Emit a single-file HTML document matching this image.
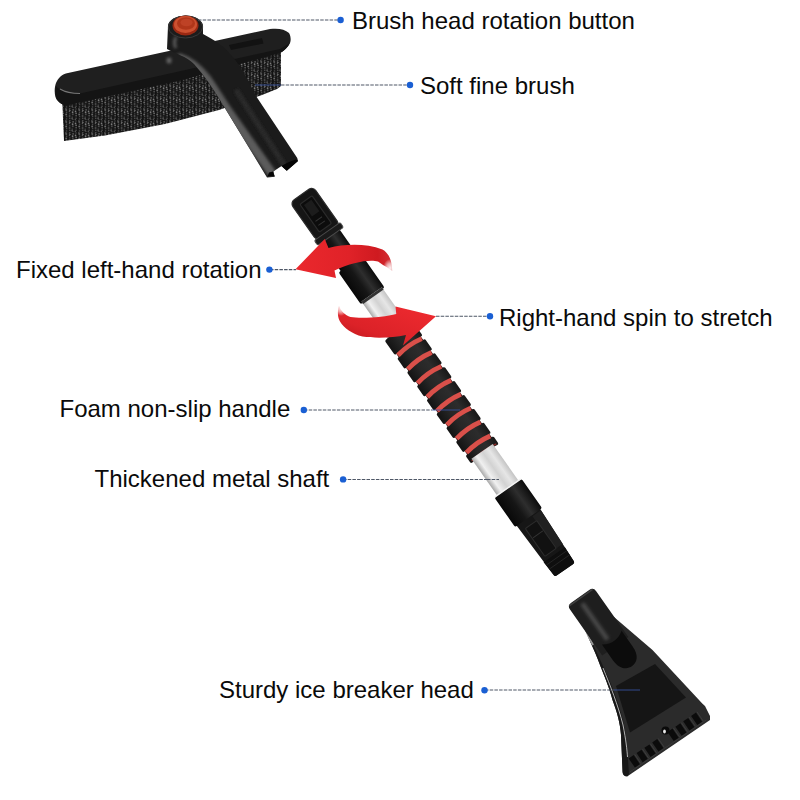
<!DOCTYPE html>
<html><head><meta charset="utf-8"><style>
html,body{margin:0;padding:0;background:#fff;width:800px;height:800px;overflow:hidden}
svg{display:block}
text{font-family:"Liberation Sans",sans-serif;font-size:24px;fill:#0a0a0a}
</style></head><body>
<svg width="800" height="800" viewBox="0 0 800 800">
<defs>
<pattern id="bristle" width="13" height="12" patternUnits="userSpaceOnUse">
<rect width="13" height="12" fill="#171717"/>
<circle cx="0.9" cy="0.0" r="0.92" fill="#4a4a4a"/>
<circle cx="4.4" cy="1.2" r="0.60" fill="#505050"/>
<circle cx="7.9" cy="11.8" r="0.67" fill="#6a6a6a"/>
<circle cx="11.0" cy="1.1" r="0.77" fill="#505050"/>
<circle cx="1.3" cy="1.9" r="0.90" fill="#6a6a6a"/>
<circle cx="4.4" cy="3.5" r="0.66" fill="#5a5a5a"/>
<circle cx="8.1" cy="1.8" r="0.89" fill="#5a5a5a"/>
<circle cx="10.6" cy="3.4" r="0.85" fill="#7a7a7a"/>
<circle cx="1.6" cy="4.3" r="0.76" fill="#505050"/>
<circle cx="4.8" cy="5.8" r="0.61" fill="#5a5a5a"/>
<circle cx="7.6" cy="4.2" r="0.87" fill="#7a7a7a"/>
<circle cx="11.2" cy="5.4" r="0.80" fill="#7a7a7a"/>
<circle cx="1.2" cy="6.5" r="0.92" fill="#6a6a6a"/>
<circle cx="4.6" cy="8.0" r="0.95" fill="#4a4a4a"/>
<circle cx="7.8" cy="6.3" r="0.94" fill="#4a4a4a"/>
<circle cx="11.2" cy="7.8" r="0.82" fill="#6a6a6a"/>
<circle cx="1.7" cy="8.6" r="0.62" fill="#5a5a5a"/>
<circle cx="4.8" cy="10.3" r="0.72" fill="#5a5a5a"/>
<circle cx="7.2" cy="9.1" r="0.70" fill="#5a5a5a"/>
<circle cx="11.1" cy="10.2" r="0.81" fill="#5a5a5a"/>
<circle cx="1.5" cy="10.9" r="0.72" fill="#505050"/>
<circle cx="4.8" cy="0.5" r="0.68" fill="#505050"/>
<circle cx="7.1" cy="10.6" r="0.81" fill="#5a5a5a"/>
<circle cx="10.3" cy="11.9" r="0.70" fill="#7a7a7a"/>
<circle cx="1.0" cy="1.4" r="0.71" fill="#4a4a4a"/>
<circle cx="4.9" cy="2.6" r="0.73" fill="#7a7a7a"/>
<rect x="11.8" y="0" width="1.2" height="12" fill="#111"/>
</pattern>
<linearGradient id="silver" x1="0" y1="0" x2="0" y2="1">
<stop offset="0" stop-color="#c4c4c4"/><stop offset="0.25" stop-color="#e6e6e6"/><stop offset="0.5" stop-color="#d2d2d2"/><stop offset="0.78" stop-color="#f0f0f0"/><stop offset="1" stop-color="#a8a8a8"/>
</linearGradient>
<linearGradient id="blackg" x1="0" y1="0" x2="0" y2="1">
<stop offset="0" stop-color="#0c0c0c"/><stop offset="0.35" stop-color="#2e2e2e"/><stop offset="0.6" stop-color="#161616"/><stop offset="1" stop-color="#080808"/>
</linearGradient>
<linearGradient id="redg1" x1="0" y1="0" x2="1" y2="0">
<stop offset="0" stop-color="#ea282d"/><stop offset="0.55" stop-color="#e02228"/><stop offset="0.85" stop-color="#cf1a20"/><stop offset="1" stop-color="#d23036"/>
</linearGradient>
<linearGradient id="redg2" x1="0" y1="1" x2="1" y2="0">
<stop offset="0" stop-color="#b51519"/><stop offset="0.35" stop-color="#dc2228"/><stop offset="1" stop-color="#f02b30"/>
</linearGradient>
<filter id="blur2" x="-20%" y="-20%" width="140%" height="140%"><feGaussianBlur stdDeviation="2"/></filter>
<filter id="blurU" filterUnits="userSpaceOnUse" x="-2000" y="-2000" width="4000" height="4000"><feGaussianBlur stdDeviation="1.6"/></filter>
<linearGradient id="foamg" x1="0" y1="0" x2="0" y2="1">
<stop offset="0" stop-color="#1a1a1a"/><stop offset="0.3" stop-color="#2c2c2c"/><stop offset="0.65" stop-color="#262626"/><stop offset="1" stop-color="#151515"/>
</linearGradient>
<radialGradient id="fade">
<stop offset="0" stop-color="#fff" stop-opacity="0.95"/><stop offset="0.5" stop-color="#fff" stop-opacity="0.6"/><stop offset="1" stop-color="#fff" stop-opacity="0"/>
</radialGradient>
</defs>



<g id="brush">
<path d="M62,96 L276,46 L281,52 L281,86 L277,89 L262,95 L219,110 L165,124 L105,135.5 L64,141 Z" fill="url(#bristle)"/>
<path d="M58,101 C54,98 54,88 56,83 C58,78 62,74 68,73 L270,29 C278,28 285,29 289,33 C291,36 291,41 290,43 C288,47 284,51 280,53 L180,80.5 L100,98 L66,105.5 C62,104.5 60,103 58,101 Z" fill="#1f1f1f"/>
<path d="M56,86 C59,91 70,93.5 80,93.5 L280,49 L290,43 C288,47 284,51 280,53 L180,80.5 L100,98 L66,105.5 C62,104.5 60,103 58,101 C55,98 55,90 56,86 Z" fill="#141414"/>
<path d="M60,89 C65,92 72,93.5 80,93.5" stroke="#777" stroke-width="1.2" fill="none"/>
<path d="M229,45 L262,38 L263.5,43.5 L231,50 Z" fill="#121212"/>
<clipPath id="armclip"><path d="M167,49 C176,54 186,56 194,64 C204,75 212,87 220,100 L267,177.5 L274.75,176.75 L273.25,171.5 L281.5,166 L286.75,170.75 L298,161 L297.25,158 L256,96 C248,80 240,64 230,54 C224,46 214,40 203,34 L203,27 A17.5,11 0 0 0 168,26 Z"/></clipPath>
<path d="M167,49 C176,54 186,56 194,64 C204,75 212,87 220,100 L267,177.5 L274.75,176.75 L273.25,171.5 L281.5,166 L286.75,170.75 L298,161 L297.25,158 L256,96 C248,80 240,64 230,54 C224,46 214,40 203,34 L203,27 A17.5,11 0 0 0 168,26 Z" fill="#1b1b1b"/>
<g clip-path="url(#armclip)">
<path d="M180,58 C192,62 200,70 207,79 C214,89 220,99 226,108 L271,172" stroke="#5c5c5c" stroke-width="9" fill="none" stroke-linecap="round" filter="url(#blurU)"/>
<path d="M236,90 L286,168" stroke="#2c2c2c" stroke-width="5" fill="none" filter="url(#blurU)"/>
</g>
<path d="M267.5,176.5 L274.5,176.3 L273,171.5 L269,172.5 Z" fill="#050505"/>
<path d="M281.5,166 L286.75,170.75 L298,161 L296,159.5 C291,161 286,163 281.5,166 Z" fill="#050505"/>
<ellipse cx="169" cy="60.5" rx="2.5" ry="3" fill="#666" filter="url(#blurU)"/>
<path d="M176,37 C174,41 174,45 176,48" stroke="#5a5a5a" stroke-width="3" fill="none" filter="url(#blurU)"/>
<ellipse cx="185.5" cy="27" rx="17.2" ry="11" fill="#1c1c1c" stroke="#3a3a3a" stroke-width="1"/>
<ellipse cx="185.5" cy="25.5" rx="13" ry="10" fill="#9a2812"/>
<ellipse cx="185.5" cy="24.5" rx="11.5" ry="8.5" fill="#cc5030"/>
<ellipse cx="186" cy="23.5" rx="9" ry="6.2" fill="#b0361a"/>
<ellipse cx="186.5" cy="22.5" rx="6" ry="3.8" fill="#be4226"/>
</g>

<g id="pole" transform="translate(301.5,194.5) rotate(54.9)">
<rect x="50" y="-11" width="40" height="23" fill="url(#blackg)"/>
<rect x="0" y="-14" width="47" height="28" rx="5" fill="#151515" stroke="#2c2c2c" stroke-width="1.2"/>
<rect x="7" y="-8" width="34" height="15" rx="1.5" fill="#0c0c0c" stroke="#2a2a2a" stroke-width="1.2"/>
<rect x="10" y="-5" width="14" height="9" fill="#1c1c1c"/>
<line x1="30" y1="-4" x2="30" y2="4" stroke="#333" stroke-width="1"/>
<line x1="35" y1="-4" x2="35" y2="4" stroke="#333" stroke-width="1"/>
<rect x="45" y="-15.5" width="6" height="31.5" rx="2" fill="#1a1a1a" stroke="#4a4a4a" stroke-width="1"/>
<rect x="85" y="-14.5" width="39" height="29" rx="2" fill="url(#blackg)"/>
<rect x="122" y="-12.5" width="56" height="25" fill="url(#silver)"/>
<rect x="122" y="-12.5" width="3" height="25" fill="#333"/>
<rect x="170" y="-16.0" width="145" height="30" fill="#3a1010"/>
<path d="M169.0,-16.5 Q166.0,-1.0 169.0,14.5 L183.5,14.5 Q180.5,-1.0 183.5,-16.5 Z" fill="url(#foamg)" stroke="url(#foamg)" stroke-width="3" stroke-linejoin="round"/>
<path d="M190.5,-16.5 Q187.5,-1.0 190.5,14.5 L200.5,14.5 Q197.5,-1.0 200.5,-16.5 Z" fill="url(#foamg)" stroke="url(#foamg)" stroke-width="3" stroke-linejoin="round"/>
<path d="M207.5,-16.5 Q204.5,-1.0 207.5,14.5 L217.5,14.5 Q214.5,-1.0 217.5,-16.5 Z" fill="url(#foamg)" stroke="url(#foamg)" stroke-width="3" stroke-linejoin="round"/>
<path d="M224.5,-16.5 Q221.5,-1.0 224.5,14.5 L234.5,14.5 Q231.5,-1.0 234.5,-16.5 Z" fill="url(#foamg)" stroke="url(#foamg)" stroke-width="3" stroke-linejoin="round"/>
<path d="M241.5,-16.5 Q238.5,-1.0 241.5,14.5 L251.5,14.5 Q248.5,-1.0 251.5,-16.5 Z" fill="url(#foamg)" stroke="url(#foamg)" stroke-width="3" stroke-linejoin="round"/>
<path d="M258.5,-16.5 Q255.5,-1.0 258.5,14.5 L268.5,14.5 Q265.5,-1.0 268.5,-16.5 Z" fill="url(#foamg)" stroke="url(#foamg)" stroke-width="3" stroke-linejoin="round"/>
<path d="M275.5,-16.5 Q272.5,-1.0 275.5,14.5 L285.5,14.5 Q282.5,-1.0 285.5,-16.5 Z" fill="url(#foamg)" stroke="url(#foamg)" stroke-width="3" stroke-linejoin="round"/>
<path d="M292.5,-16.5 Q289.5,-1.0 292.5,14.5 L302.5,14.5 Q299.5,-1.0 302.5,-16.5 Z" fill="url(#foamg)" stroke="url(#foamg)" stroke-width="3" stroke-linejoin="round"/>
<path d="M309.5,-16.5 Q306.5,-1.0 309.5,14.5 L316.0,14.5 Q313.0,-1.0 316.0,-16.5 Z" fill="url(#foamg)" stroke="url(#foamg)" stroke-width="3" stroke-linejoin="round"/>
<path d="M187.0,-15.5 Q184.0,-1.0 187.0,13.5" stroke="#d9504a" stroke-width="4.8" fill="none"/>
<path d="M204.0,-15.5 Q201.0,-1.0 204.0,13.5" stroke="#d9504a" stroke-width="4.8" fill="none"/>
<path d="M221.0,-15.5 Q218.0,-1.0 221.0,13.5" stroke="#d9504a" stroke-width="4.8" fill="none"/>
<path d="M238.0,-15.5 Q235.0,-1.0 238.0,13.5" stroke="#d9504a" stroke-width="4.8" fill="none"/>
<path d="M255.0,-15.5 Q252.0,-1.0 255.0,13.5" stroke="#d9504a" stroke-width="4.8" fill="none"/>
<path d="M272.0,-15.5 Q269.0,-1.0 272.0,13.5" stroke="#d9504a" stroke-width="4.8" fill="none"/>
<path d="M289.0,-15.5 Q286.0,-1.0 289.0,13.5" stroke="#d9504a" stroke-width="4.8" fill="none"/>
<path d="M306.0,-15.5 Q303.0,-1.0 306.0,13.5" stroke="#d9504a" stroke-width="4.8" fill="none"/>
<path d="M316.0,-16.0 Q313.0,-1.0 316.0,14.0" stroke="#8a2a26" stroke-width="1.5" fill="none"/>
<rect x="314" y="-13" width="48" height="26" fill="url(#silver)"/>
<path d="M393,-14.5 L456,-12 Q458.5,-12 458.5,-9.5 L458.5,10 Q458.5,12.5 456,12.5 L393,14.5 Z" fill="#161616"/>
<path d="M396,-14.3 L436,-12.8 L436,-4 L396,-4 Z" fill="#202020"/>
<rect x="402" y="-5" width="34" height="14" rx="1" fill="#111" stroke="#2c2c2c" stroke-width="1"/>
<line x1="414" y1="-4" x2="414" y2="8" stroke="#333" stroke-width="1"/>
<path d="M440,-12.7 L456,-12 Q458.5,-12 458.5,-9.5 L458.5,10 Q458.5,12.5 456,12.5 L440,13.3 Z" fill="#0e0e0e"/>
<line x1="444" y1="-12.3" x2="444" y2="12.8" stroke="#282828" stroke-width="0.8"/>
<line x1="449" y1="-12.1" x2="449" y2="12.6" stroke="#282828" stroke-width="0.8"/>
<rect x="359" y="-16.5" width="36" height="33" rx="2" fill="url(#blackg)"/>
<rect x="358" y="-16" width="1.5" height="32" fill="#f4f4f4"/>
</g>

<path d="M295.5,269.3 L324.75,239 L328.5,248 C345,244 365,243 382.5,249.5 C390,254 392,262 392.25,271 C389,268 384,266 378,261.5 C370,259 352,262 334.5,270.5 L336,278 Z" fill="url(#redg1)"/>
<ellipse cx="390" cy="268" rx="7" ry="9" fill="url(#fade)"/>
<path d="M436,316.25 L395.5,306.5 L396.25,314 C385,317 362,319 350.5,317 C345,315 341,311 339,306 C337,312 338,318 340,321.5 C344,328 352,334 362.5,336.5 C375,338.5 392,338 406,335 L403,345.5 Z" fill="url(#redg2)"/>
<ellipse cx="341" cy="308" rx="7" ry="8" fill="url(#fade)"/>

<g id="scraper">
<path d="M581,620 C586,634 594,648 600,665 C606,680 610,690 612.5,700 C617,712 620,722 621,735 L622.5,770 C622.5,774 623.5,776.5 627.5,776.25 L710,720 L710,716 L705,706 L702.5,703.75 L652.5,650 L614,617 Z" fill="#2b2b2b"/>
<path d="M581,620 C586,634 594,648 600,665 C606,680 610,690 612.5,700 C617,712 620,722 621,735 L622.5,770 C622.5,774 623.5,776.5 627.5,776.25 L629,774 C628,760 627,745 625,730 C621,708 612,685 603,666 C596,650 588,635 584,624 Z" fill="#181818"/>
<path d="M603,668 C610,685 618,705 623,725 C626,740 627,750 627.5,757" stroke="#d8d8d8" stroke-width="1" fill="none" opacity="0.8"/>
<path d="M583,624 C586,632 590,640 593,645" stroke="#e8e8e8" stroke-width="2" fill="none" opacity="0.6"/>
<path d="M616,686 L655,664 L686,697.5 L630,732.5 Z" fill="#151515"/>
<path d="M634.9,767.6 L639.9,764.2 L633.7,755.1 L628.7,758.5 Z" fill="#0b0b0b"/>
<line x1="640.8" y1="763.5" x2="634.7" y2="754.4" stroke="#3c3c3c" stroke-width="1"/>
<path d="M642.7,762.2 L647.7,758.8 L641.5,749.8 L636.6,753.1 Z" fill="#0b0b0b"/>
<line x1="648.7" y1="758.2" x2="642.5" y2="749.1" stroke="#3c3c3c" stroke-width="1"/>
<path d="M650.6,756.9 L655.6,753.5 L649.4,744.4 L644.4,747.8 Z" fill="#0b0b0b"/>
<line x1="656.5" y1="752.8" x2="650.3" y2="743.7" stroke="#3c3c3c" stroke-width="1"/>
<path d="M658.4,751.5 L663.4,748.1 L657.2,739.1 L652.2,742.4 Z" fill="#0b0b0b"/>
<line x1="664.4" y1="747.5" x2="658.2" y2="738.4" stroke="#3c3c3c" stroke-width="1"/>
<path d="M673.7,741.1 L678.7,737.7 L672.5,728.6 L667.5,732.0 Z" fill="#0b0b0b"/>
<line x1="679.7" y1="737.0" x2="673.5" y2="728.0" stroke="#3c3c3c" stroke-width="1"/>
<path d="M681.6,735.7 L686.5,732.4 L680.3,723.3 L675.4,726.7 Z" fill="#0b0b0b"/>
<line x1="687.5" y1="731.7" x2="681.3" y2="722.6" stroke="#3c3c3c" stroke-width="1"/>
<path d="M689.4,730.4 L694.4,727.0 L688.2,717.9 L683.2,721.3 Z" fill="#0b0b0b"/>
<line x1="695.4" y1="726.3" x2="689.2" y2="717.2" stroke="#3c3c3c" stroke-width="1"/>
<path d="M697.3,725.0 L702.2,721.7 L696.0,712.6 L691.1,716.0 Z" fill="#0b0b0b"/>
<line x1="703.2" y1="721.0" x2="697.0" y2="711.9" stroke="#3c3c3c" stroke-width="1"/>
<line x1="629.6" y1="772.2" x2="706.3" y2="719.9" stroke="#3a3a3a" stroke-width="1"/>
<circle cx="665.5" cy="730.5" r="4" fill="#0a0a0a"/>
<ellipse cx="664.5" cy="731.5" rx="1.4" ry="2" fill="#e8e8e8"/>
<g transform="translate(301.5,194.5) rotate(54.9)">
<path d="M489,-8 Q489,-13 494,-13 L550,-13 L550,19 L494,19 Q489,19 489,14 Z" fill="#1e1e1e"/>
<path d="M490.5,-11 L490.5,17.5" stroke="#404040" stroke-width="1.5"/>
<path d="M496,5.5 L540,5.5" stroke="#454545" stroke-width="5" filter="url(#blurU)"/>
<path d="M541,-11 C546,-4 547,5 541,13 L560,13 C572,13 576,6 576,1 C576,-5 572,-11 560,-11 Z" fill="#0c0c0c"/>
</g>
</g>

<g stroke="#4e5766" stroke-width="1.05" stroke-dasharray="3.5 1.2" fill="none">
<line x1="198" y1="20" x2="340" y2="20"/>
<line x1="281" y1="85" x2="410" y2="85"/>
<line x1="270" y1="269.6" x2="296" y2="269.6"/>
<line x1="436" y1="316.3" x2="490" y2="316.3"/>
<line x1="304" y1="410" x2="432" y2="410"/>
<line x1="343" y1="479.4" x2="487" y2="479.4"/>
<line x1="485" y1="690" x2="614" y2="690"/>
</g>
<g stroke="#3a55a8" stroke-width="1.1" fill="none" opacity="0.75">
<line x1="255" y1="85" x2="281" y2="85"/>
<line x1="432" y1="410" x2="460" y2="410"/>
<line x1="614" y1="690" x2="640" y2="690"/>
</g>
<g stroke="#4e5766" stroke-width="1.05" stroke-dasharray="3.5 1.2" fill="none">
<line x1="487" y1="479.4" x2="499" y2="479.4"/>
</g>
<g fill="#1a5fd3">
<circle cx="340.6" cy="20" r="3.2"/>
<circle cx="410" cy="85" r="3.2"/>
<circle cx="269.4" cy="269.6" r="3.2"/>
<circle cx="490" cy="316.3" r="3.2"/>
<circle cx="303.8" cy="410" r="3.2"/>
<circle cx="343.1" cy="479.4" r="3.2"/>
<circle cx="484.5" cy="690.2" r="3.2"/>
</g>

<g id="labels">
<text x="352" y="28.75">Brush head rotation button</text>
<text x="420" y="93.75">Soft fine brush</text>
<text x="16" y="277.75">Fixed left-hand rotation</text>
<text x="499" y="325.6">Right-hand spin to stretch</text>
<text x="59.5" y="416.9">Foam non-slip handle</text>
<text x="94.5" y="486.9">Thickened metal shaft</text>
<text x="219" y="697.5">Sturdy ice breaker head</text>
</g>
</svg>
</body></html>
